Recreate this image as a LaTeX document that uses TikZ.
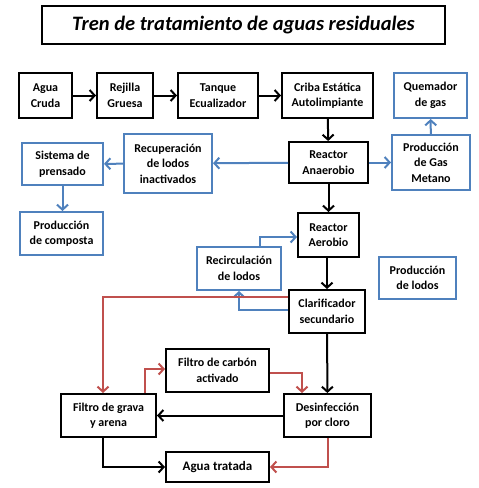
\documentclass[tikz,border=0pt]{standalone}
\usepackage{fontspec}
\setmainfont{Carlito}
\usetikzlibrary{arrows.meta,calc}
\definecolor{oblue}{HTML}{4F81BD}
\definecolor{ored}{HTML}{C0504D}
\begin{document}
\begin{tikzpicture}[x=1pt,y=-1pt,
  bx/.style={draw=black,line width=2pt,inner sep=0pt,align=center,font=\fontsize{12}{15.5}\selectfont\bfseries},
  bb/.style={bx,draw=oblue},
  ar/.style={line width=2pt,-{Straight Barb[length=5pt,width=11pt,line width=2pt]}},
  arb/.style={ar,draw=oblue},
  arr/.style={ar,draw=ored}]
\useasboundingbox (0,0) rectangle (479,488);
\node[draw,line width=1.6pt,minimum width=403pt,minimum height=38pt,inner sep=0pt,font=\fontsize{20.5}{24}\selectfont\bfseries\itshape] (title) at (243.5,25) {Tren de tratamiento de aguas residuales};
\node[bx,minimum width=53pt,minimum height=45pt] (agua) at (45.5,95.5) {Agua\\Cruda};
\node[bx,minimum width=56pt,minimum height=45pt] (rej) at (125,95.5) {Rejilla\\Gruesa};
\node[bx,minimum width=80pt,minimum height=45pt] (tan) at (218,95.5) {Tanque\\Ecualizador};
\node[bx,minimum width=91pt,minimum height=45pt] (cri) at (327.5,95.5) {Criba Estática\\Autolimpiante};
\node[bb,minimum width=73pt,minimum height=45pt] (que) at (430.5,95.5) {Quemador\\de gas};
\node[bb,minimum width=81pt,minimum height=42pt] (sis) at (62.5,164) {Sistema de\\prensado};
\node[bb,minimum width=88pt,minimum height=59pt] (rec) at (168,163.5) {Recuperación\\de lodos\\inactivados};
\node[bx,minimum width=79pt,minimum height=41pt] (ana) at (328.5,162.5) {Reactor\\Anaerobio};
\node[bb,minimum width=78pt,minimum height=55pt] (met) at (431,162.5) {Producción\\de Gas\\Metano};
\node[bb,minimum width=83pt,minimum height=43pt] (com) at (61.5,233.5) {Producción\\de composta};
\node[bx,minimum width=61pt,minimum height=44pt] (aer) at (328.5,235) {Reactor\\Aerobio};
\node[bb,minimum width=84pt,minimum height=43pt] (rci) at (239,268.5) {Recirculación\\de lodos};
\node[bb,minimum width=77pt,minimum height=42pt] (lod) at (417.5,278) {Producción\\de lodos};
\node[bx,minimum width=76pt,minimum height=43pt] (cla) at (327,311.5) {Clarificador\\secundario};
\node[bx,minimum width=103pt,minimum height=43pt] (car) at (217.5,370.5) {Filtro de carbón\\activado};
\node[bx,minimum width=95pt,minimum height=43pt] (gra) at (108.5,415.5) {Filtro de grava\\y arena};
\node[bx,minimum width=87pt,minimum height=43pt] (des) at (327.5,415.5) {Desinfección\\por cloro};
\node[bx,minimum width=103pt,minimum height=30pt,font=\fontsize{13}{15}\selectfont\bfseries] (tra) at (217.5,467) {Agua tratada};
% black flow
\draw[ar] (agua) -- (rej);
\draw[ar] (rej) -- (tan);
\draw[ar] (tan) -- (cri);
\draw[ar] (cri) -- (ana);
\draw[ar] (ana) -- (aer);
\draw[ar] (aer.south -| cla.north) -- (cla);
\draw[ar] (cla) -- (des);
\draw[ar] (des) -- (gra);
\draw[ar] ([xshift=-5.5pt]gra.south) |- (tra.west);
% blue
\draw[arb] (ana) -- (met);
\draw[arb] (met) -- (que);
\draw[arb] (ana) -- (rec);
\draw[arb] (rec) -- (sis);
\draw[arb] (sis.south) -- (com.north -| sis.south);
\draw[arb] ([xshift=21pt]rci.north) |- ([yshift=-2pt]aer.west);
\draw[arb] ([yshift=1.5pt]cla.west) -| (rci.south);
% red
\draw[arr] ([yshift=14.5pt]cla.west) -| ([xshift=-5.5pt]gra.north);
\draw[arr] ([xshift=36.5pt]gra.north) |- ([yshift=1.5pt]car.west);
\draw[arr] ([yshift=-2.5pt]car.east) -| ([xshift=-25.5pt]des.north);
\draw[arr] (des.south) |- (tra.east);
\end{tikzpicture}
\end{document}
